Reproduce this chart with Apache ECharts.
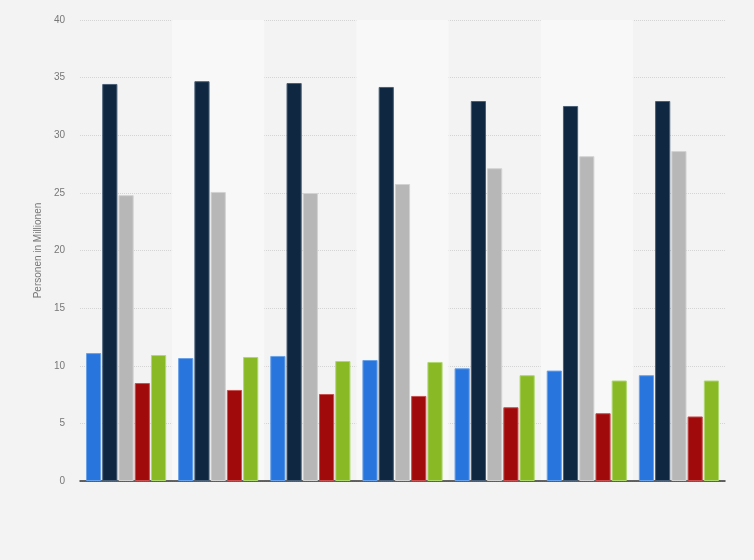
<!DOCTYPE html>
<html>
<head>
<meta charset="utf-8">
<script src="https://cdn.jsdelivr.net/npm/echarts@6/dist/echarts.min.js"></script>
<style>html,body{margin:0;padding:0;background:#f3f3f3;}#c{width:754px;height:560px;}</style>
</head>
<body>
<div id="c"></div>
<script>
const categories = ['1', '2', '3', '4', '5', '6', '7'];
const seriesBlue  = [11.1, 10.67, 10.85, 10.5, 9.78, 9.58, 9.18];
const seriesNavy  = [34.45, 34.69, 34.53, 34.19, 32.97, 32.54, 32.97];
const seriesGray  = [24.8, 25.08, 24.99, 25.77, 27.14, 28.18, 28.63];
const seriesRed   = [8.5, 7.9, 7.55, 7.38, 6.4, 5.88, 5.6];
const seriesGreen = [10.93, 10.76, 10.41, 10.33, 9.18, 8.72, 8.72];
const yTicks = [0, 5, 10, 15, 20, 25, 30, 35, 40];

const colors = ['#2876dd', '#0f2741', '#b7b7b7', '#a10a0a', '#89b925'];
const borders = ['#6aa2ea', '#4a6078', '#d2d2d2', '#c85050', '#b0d870'];
const data = [seriesBlue, seriesNavy, seriesGray, seriesRed, seriesGreen];

const chart = echarts.init(document.getElementById('c'));
chart.setOption({
  backgroundColor: '#f3f3f3',
  animation: false,
  grid: { left: 80, right: 29, top: 20, bottom: 79, containLabel: false },
  xAxis: {
    type: 'category',
    data: categories,
    axisLine: { show: true, lineStyle: { color: '#333', width: 1.5 } },
    axisTick: { show: false },
    axisLabel: { show: false },
    splitArea: { show: true, areaStyle: { color: ['rgba(0,0,0,0)', '#f8f8f8'] } }
  },
  yAxis: {
    type: 'value',
    min: yTicks[0],
    max: yTicks[yTicks.length - 1],
    interval: 5,
    name: 'Personen in Millionen',
    nameLocation: 'middle',
    nameGap: 34,
    nameTextStyle: { color: '#777', fontSize: 10, fontFamily: 'Liberation Sans, Arial, sans-serif' },
    axisLine: { show: false },
    axisTick: { show: false },
    axisLabel: { color: '#777', fontSize: 10, margin: 15, fontFamily: 'Liberation Sans, Arial, sans-serif' },
    splitLine: { lineStyle: { color: '#d4d4d4', type: 'dotted', width: 1 } }
  },
  series: data.map((d, i) => ({
    type: 'bar',
    data: d,
    barGap: '7%',
    barCategoryGap: '13%',
    itemStyle: { color: colors[i], borderColor: borders[i], borderWidth: 1 }
  }))
});
</script>
</body>
</html>
